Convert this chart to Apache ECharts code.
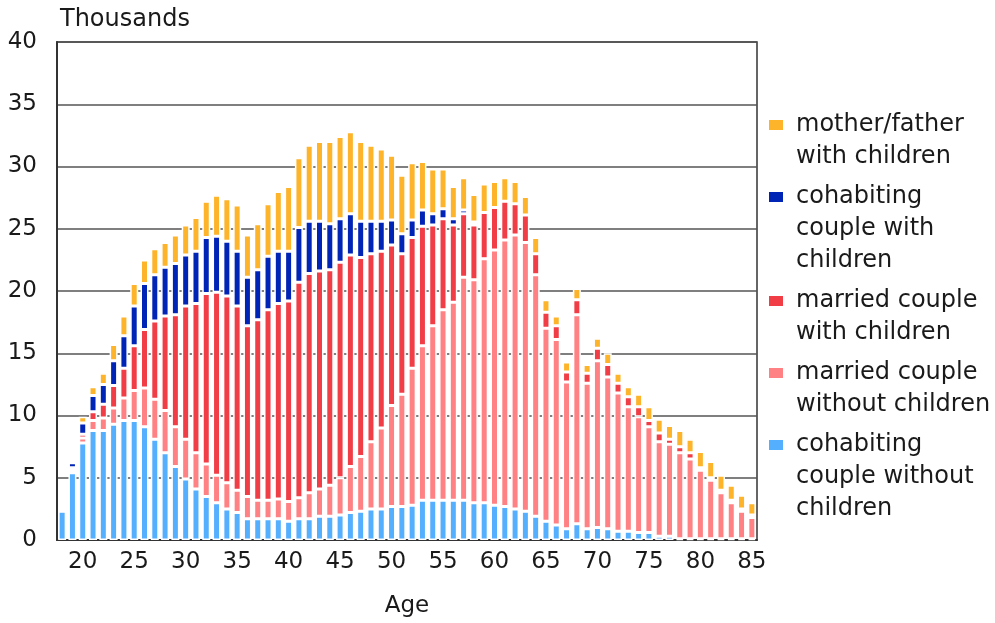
<!DOCTYPE html>
<html>
<head>
<meta charset="utf-8">
<script src="https://cdn.jsdelivr.net/npm/echarts@6/dist/echarts.min.js"></script>
<style>
  html, body { margin: 0; padding: 0; background: #fff; }
  #chart { width: 995px; height: 623px; }
</style>
</head>
<body>
<div id="chart"></div>
<script>
// ages 18..85
const ages = []
for (let a = 18; a <= 85; a++) ages.push(String(a))

// thousands
const cohabNoKids = [
  2.3, 5.4, 7.8, 8.8, 8.8, 9.3, 9.6, 9.6, 9.1, 8.1,
  7.0, 5.9, 4.9, 4.1, 3.5, 3.0, 2.5, 2.2, 1.7, 1.7,
  1.7, 1.7, 1.5, 1.7, 1.7, 1.9, 1.9, 2.0, 2.2, 2.3,
  2.5, 2.5, 2.7, 2.7, 2.8, 3.2, 3.2, 3.2, 3.2, 3.2,
  3.0, 3.0, 2.8, 2.7, 2.5, 2.3, 1.9, 1.5, 1.2, 0.9,
  1.3, 0.9, 1.0, 0.9, 0.7, 0.7, 0.6, 0.6, 0.3, 0.3,
  0.1, 0.1, 0.1, 0.1, 0.1, 0.1, 0.1, 0.1
]
const marriedNoKids = [
  0, 0.2, 0.4, 0.8, 1.0, 1.3, 1.8, 2.4, 3.1, 3.2,
  3.4, 3.2, 3.2, 2.9, 2.6, 2.2, 2.1, 1.8, 1.8, 1.5,
  1.5, 1.6, 1.6, 1.7, 2.1, 2.2, 2.5, 3.0, 3.7, 4.4,
  5.4, 6.5, 8.1, 9.0, 11.0, 12.4, 14.0, 15.3, 15.9, 17.9,
  17.9, 19.6, 20.5, 21.4, 22.0, 21.6, 19.4, 15.5, 14.9, 11.8,
  16.8, 11.7, 13.4, 12.2, 11.1, 10.0, 9.3, 8.5, 7.6, 7.4,
  6.9, 6.4, 5.5, 4.7, 3.7, 2.9, 2.2, 1.7
]
const marriedKids = [
  0, 0.2, 0.3, 0.7, 1.1, 1.8, 2.4, 3.6, 4.7, 6.3,
  7.6, 9.0, 10.7, 12.0, 13.7, 14.7, 15.0, 14.8, 13.7, 14.5,
  15.3, 15.7, 16.1, 17.3, 17.6, 17.5, 17.3, 17.3, 17.0, 16.0,
  15.1, 14.2, 12.9, 11.3, 10.5, 9.6, 8.1, 7.3, 6.2, 5.1,
  4.4, 3.7, 3.4, 3.1, 2.5, 2.2, 1.7, 1.3, 1.1, 0.8,
  1.2, 0.8, 1.0, 1.0, 0.8, 0.8, 0.8, 0.5, 0.7, 0.4,
  0.5, 0.5, 0.2, 0.2, 0.2, 0.2, 0.2, 0.2
]
const cohabKids = [
  0, 0.4, 0.9, 1.3, 1.6, 2.0, 2.6, 3.2, 3.7, 3.7,
  3.9, 4.1, 4.1, 4.2, 4.5, 4.5, 4.4, 4.4, 3.9, 4.0,
  4.3, 4.2, 4.0, 4.4, 4.2, 4.0, 3.7, 3.5, 3.3, 2.9,
  2.6, 2.4, 2.0, 1.6, 1.4, 1.3, 0.9, 0.8, 0.5, 0.3,
  0.25, 0, 0, 0, 0, 0, 0, 0, 0, 0,
  0, 0, 0, 0, 0, 0, 0, 0, 0, 0,
  0, 0, 0, 0, 0, 0, 0, 0
]
const singleParent = [
  0, 0.1, 0.5, 0.7, 0.9, 1.3, 1.6, 1.8, 1.9, 2.1,
  2.0, 2.3, 2.4, 2.7, 2.9, 3.3, 3.4, 3.7, 3.4, 3.7,
  4.2, 4.8, 5.2, 5.6, 6.1, 6.4, 6.6, 6.6, 6.6, 6.4,
  6.1, 5.8, 5.2, 4.7, 4.6, 3.9, 3.6, 3.2, 2.6, 2.6,
  2.2, 2.3, 2.1, 1.9, 1.8, 1.5, 1.3, 1.0, 0.8, 0.8,
  0.9, 0.7, 0.8, 0.9, 0.8, 0.8, 1.0, 1.1, 1.1, 1.1,
  1.3, 1.1, 1.3, 1.3, 1.2, 1.2, 1.1, 1.0
]

// stacked bottom to top
const seriesList = [
  { name: 'cohabiting couple without children', data: cohabNoKids, color: '#55AFFF', lines: ['cohabiting', 'couple without', 'children'] },
  { name: 'married couple without children', data: marriedNoKids, color: '#FF8183', lines: ['married couple', 'without children'] },
  { name: 'married couple with children', data: marriedKids, color: '#F03D46', lines: ['married couple', 'with children'] },
  { name: 'cohabiting couple with children', data: cohabKids, color: '#0024B6', lines: ['cohabiting', 'couple with', 'children'] },
  { name: 'mother/father with children', data: singleParent, color: '#FDB42A', lines: ['mother/father', 'with children'] },
]

const font = 'DejaVu Sans'
const rich = {
  g: { width: 13, lineHeight: 32 },
  ind: { width: 27, lineHeight: 32 },
}
seriesList.forEach((s, i) => {
  rich['b' + i] = { width: 14, height: 10, backgroundColor: s.color, lineHeight: 32 }
})

const option = {
  animation: false,
  grid: {
    left: 57,
    right: 238,
    top: 42,
    bottom: 83,
    outerBoundsMode: 'none',
    show: true,
    borderColor: '#333',
    borderWidth: 1.5,
  },
  legend: {
    orient: 'vertical',
    left: 759,
    top: 104,
    itemGap: 8,
    icon: 'none',
    itemWidth: 0,
    itemHeight: 0,
    selectedMode: false,
    data: seriesList.map((s) => s.name).reverse(),
    formatter: (name) => {
      const i = seriesList.findIndex((s) => s.name === name)
      const lines = seriesList[i].lines
      return lines.map((l, k) => (k === 0 ? '{b' + i + '|}{g|}' : '{ind|}') + l).join('\n')
    },
    textStyle: {
      fontFamily: font,
      fontSize: 24,
      lineHeight: 32,
      color: '#1a1a1a',
      rich: rich,
    },
  },
  xAxis: {
    type: 'category',
    data: ages,
    name: 'Age',
    nameLocation: 'middle',
    nameGap: 55,
    nameTextStyle: { fontFamily: font, fontSize: 23, color: '#1a1a1a' },
    axisLine: { lineStyle: { color: '#333', width: 2 } },
    axisTick: { show: false },
    axisLabel: {
      interval: (idx, val) => Number(val) % 5 === 0,
      margin: 11,
      fontFamily: font,
      fontSize: 23,
      color: '#1a1a1a',
    },
  },
  yAxis: {
    type: 'value',
    min: 0,
    max: 40,
    interval: 5,
    name: 'Thousands',
    nameLocation: 'end',
    nameGap: 22,
    nameTextStyle: { fontFamily: font, fontSize: 24, color: '#1a1a1a', align: 'left', verticalAlign: 'middle', padding: [0, 0, 0, 3] },
    axisLine: { show: true, lineStyle: { color: '#333', width: 2 } },
    axisTick: { show: false },
    axisLabel: { margin: 20, fontFamily: font, fontSize: 23, color: '#1a1a1a' },
    splitLine: { lineStyle: { color: '#555', width: 1.5 } },
  },
  series: seriesList.map((s) => ({
    name: s.name,
    type: 'bar',
    stack: 'total',
    barWidth: 8,
    data: s.data,
    itemStyle: { color: s.color, borderColor: '#fff', borderWidth: 1.5 },
  })),
}

const chartObj = echarts.init(document.getElementById('chart'))
chartObj.setOption(option)
</script>
</body>
</html>
